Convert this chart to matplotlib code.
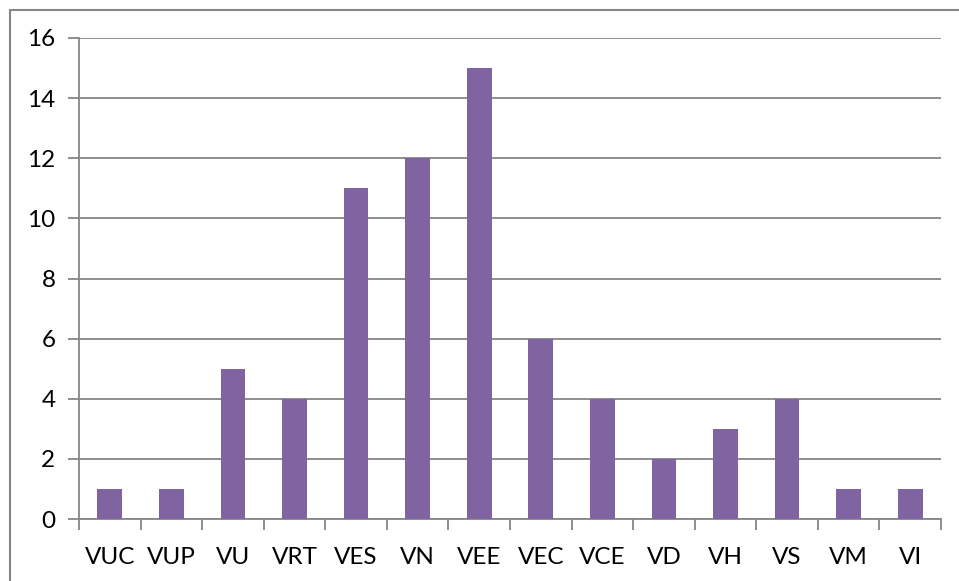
import matplotlib
matplotlib.use("Agg")
import matplotlib.pyplot as plt
from matplotlib.patches import Rectangle

categories = ["VUC", "VUP", "VU", "VRT", "VES", "VN", "VEE", "VEC", "VCE", "VD", "VH", "VS", "VM", "VI"]
values = [1, 1, 5, 4, 11, 12, 15, 6, 4, 2, 3, 4, 1, 1]
yticks = [0, 2, 4, 6, 8, 10, 12, 14, 16]

plt.rcParams['font.family'] = ['Lato', 'DejaVu Sans']

W, H = 959, 581
fig = plt.figure(figsize=(W / 100, H / 100), dpi=100)
ax = fig.add_axes([79 / W, 1 - 519 / H, (941 - 79) / W, (519 - 38) / H])

gray = "#868686"
x = list(range(len(categories)))
ax.bar(x, values, width=0.4, color="#8064A2", zorder=3)
ax.set_xlim(-0.5, len(categories) - 0.5)
ax.set_ylim(0, 16)
ax.set_yticks(yticks)
ax.set_yticklabels([str(t) for t in yticks])
ax.yaxis.grid(True, color=gray, linewidth=1.3, zorder=0)
ax.set_axisbelow(True)

ax.set_xticks(x)
ax.set_xticklabels(categories)
ax.tick_params(axis='x', which='major', length=0, pad=20, labelsize=17.5, labelcolor='black')
ax.set_xticks([i - 0.5 for i in range(len(categories) + 1)], minor=True)
ax.tick_params(axis='x', which='minor', length=8, width=1.3, color=gray, direction='out')
ax.tick_params(axis='y', length=8, width=1.3, color=gray, pad=9, labelsize=17.5, labelcolor='black')

for s in ['top', 'right']:
    ax.spines[s].set_visible(False)
for s in ['left', 'bottom']:
    ax.spines[s].set_color(gray)
    ax.spines[s].set_linewidth(1.3)

fig.patches.append(Rectangle((10 / W, -0.1), 2, 1.1 - 10 / H, transform=fig.transFigure,
                             fill=False, edgecolor=gray, linewidth=1.5))

fig.savefig("out.png", dpi=100)
